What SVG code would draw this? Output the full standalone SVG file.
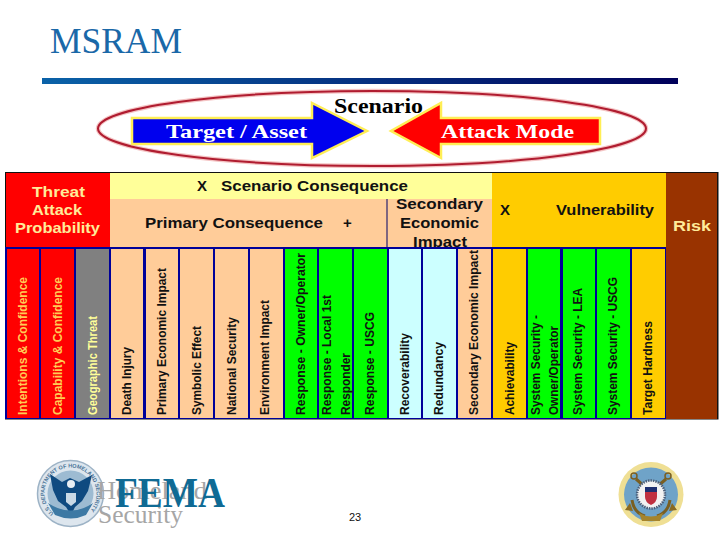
<svg xmlns="http://www.w3.org/2000/svg" width="720" height="540" viewBox="0 0 720 540">
<style>
text{font-family:"Liberation Sans",Arial,sans-serif}
.hd{font-weight:700;font-size:15px;fill:#111}
.cr{font-weight:700;font-size:15px;fill:#ffeb99}
.v{font-weight:700;font-size:12.5px;fill:#111}
.vr{fill:#ffcc55}
.vy{fill:#ffff99}
.sf{font-family:"Liberation Serif","Times New Roman",serif;font-weight:700}
.ser{font-family:"Liberation Serif","Times New Roman",serif}
.red{fill:#ff0000}.gry{fill:#808080}.pch{fill:#ffcc99}.grn{fill:#00ff00}.blu{fill:#ccffff}.gld{fill:#ffcc00}
.arrow{stroke:#ffee55;stroke-width:2.5}
</style>
<defs>
<linearGradient id="rule" x1="0" x2="1" y1="0" y2="0"><stop offset="0" stop-color="#0a62a8"/><stop offset="1" stop-color="#00005a"/></linearGradient>
<path id="dhsArc" d="M70.500 519.500a26 26 0 1 1 0-52a26 26 0 1 1 0 52"/>
</defs>
<rect width="720" height="540" fill="#fff"/>
<g id="title">
<text class="ser" x="50" y="53" font-size="36" fill="#1a68a8" textLength="132" lengthAdjust="spacingAndGlyphs">MSRAM</text>
<rect x="42" y="78" width="636" height="6" fill="url(#rule)"/>
</g>
<g id="scenario">
<ellipse cx="372" cy="128.500" rx="274" ry="37.500" fill="none" stroke="#f4c4c4" stroke-width="4.500"/>
<ellipse cx="372" cy="128.500" rx="274" ry="37.500" fill="none" stroke="#b01c30" stroke-width="2"/>
<path class="arrow" fill="#0000ee" d="M132 118H312V103L367 131L312 158V144H132Z"/>
<path class="arrow" fill="#ff0000" d="M600 118H441V103L391 131L441 158V144H600Z"/>
<text class="sf" x="166" y="138" font-size="19" fill="#fff" textLength="141" lengthAdjust="spacingAndGlyphs">Target / Asset</text>
<text class="sf" x="441" y="138" font-size="19" fill="#fff" textLength="133" lengthAdjust="spacingAndGlyphs">Attack Mode</text>
<text class="sf" x="334" y="113" font-size="20" fill="#000" textLength="89" lengthAdjust="spacingAndGlyphs">Scenario</text>
</g>
<g id="table">
<rect x="5" y="172" width="713.500" height="247.500" fill="#111"/>
<rect x="6" y="173" width="104" height="75" class="red"/>
<rect x="110" y="173" width="382" height="27" fill="#ffff99"/>
<rect x="110" y="199" width="382" height="48" class="pch"/>
<rect x="492" y="173" width="174" height="75" class="gld"/>
<rect x="666" y="173" width="51" height="246" fill="#993300"/>
<rect x="386.500" y="199" width="1" height="48" fill="#000066"/>
<g id="headers">
<text class="cr" x="32" y="197" textLength="53" lengthAdjust="spacingAndGlyphs">Threat</text>
<text class="cr" x="32" y="215" textLength="50" lengthAdjust="spacingAndGlyphs">Attack</text>
<text class="cr" x="15" y="233" textLength="85" lengthAdjust="spacingAndGlyphs">Probability</text>
<text class="hd" x="197" y="191">X</text>
<text class="hd" x="221" y="191" textLength="187" lengthAdjust="spacingAndGlyphs">Scenario Consequence</text>
<text class="hd" x="145" y="228" textLength="178" lengthAdjust="spacingAndGlyphs">Primary Consequence</text>
<text class="hd" x="343" y="228">+</text>
<text class="hd" x="396" y="209" textLength="87" lengthAdjust="spacingAndGlyphs">Secondary</text>
<text class="hd" x="400" y="228" textLength="79" lengthAdjust="spacingAndGlyphs">Economic</text>
<text class="hd" x="413" y="247" textLength="54" lengthAdjust="spacingAndGlyphs">Impact</text>
<text class="hd" x="500" y="215">X</text>
<text class="hd" x="556" y="215" textLength="98" lengthAdjust="spacingAndGlyphs">Vulnerability</text>
<text class="cr" x="673" y="231" textLength="38" lengthAdjust="spacingAndGlyphs">Risk</text>
</g>
<rect x="5" y="247" width="661" height="172" fill="#000099"/>
<g id="columns">
<rect x="7" y="249" width="32" height="169" class="red"/>
<rect x="41" y="249" width="33" height="169" class="red"/>
<rect x="76" y="249" width="33" height="169" class="gry"/>
<rect x="111" y="249" width="32" height="169" class="pch"/>
<rect x="146" y="249" width="32" height="169" class="pch"/>
<rect x="180" y="249" width="33" height="169" class="pch"/>
<rect x="215" y="249" width="33" height="169" class="pch"/>
<rect x="250" y="249" width="33" height="169" class="pch"/>
<rect x="285" y="249" width="32" height="169" class="grn"/>
<rect x="319" y="249" width="33" height="169" class="grn"/>
<rect x="354" y="249" width="33" height="169" class="grn"/>
<rect x="389" y="249" width="32" height="169" class="blu"/>
<rect x="423" y="249" width="33" height="169" class="blu"/>
<rect x="458" y="249" width="33" height="169" class="pch"/>
<rect x="493" y="249" width="33" height="169" class="gld"/>
<rect x="528" y="249" width="32" height="169" class="grn"/>
<rect x="563" y="249" width="32" height="169" class="grn"/>
<rect x="597" y="249" width="33" height="169" class="grn"/>
<rect x="632" y="249" width="33" height="169" class="gld"/>
<g id="column-labels">
<text class="v vr" transform="translate(27 415) rotate(-90)" textLength="138" lengthAdjust="spacingAndGlyphs">Intentions &amp; Confidence</text>
<text class="v vr" transform="translate(62 415) rotate(-90)" textLength="138" lengthAdjust="spacingAndGlyphs">Capability &amp; Confidence</text>
<text class="v vy" transform="translate(96.500 415) rotate(-90)" textLength="99" lengthAdjust="spacingAndGlyphs">Geographic Threat</text>
<text class="v" transform="translate(131 415) rotate(-90)" textLength="68" lengthAdjust="spacingAndGlyphs">Death Injury</text>
<text class="v" transform="translate(165.500 415) rotate(-90)" textLength="147" lengthAdjust="spacingAndGlyphs">Primary Economic Impact</text>
<text class="v" transform="translate(201 415) rotate(-90)" textLength="89" lengthAdjust="spacingAndGlyphs">Symbolic Effect</text>
<text class="v" transform="translate(235.500 415) rotate(-90)" textLength="98" lengthAdjust="spacingAndGlyphs">National Security</text>
<text class="v" transform="translate(269 415) rotate(-90)" textLength="115" lengthAdjust="spacingAndGlyphs">Environment Impact</text>
<text class="v" transform="translate(305 415) rotate(-90)" textLength="162" lengthAdjust="spacingAndGlyphs">Response - Owner/Operator</text>
<text class="v" transform="translate(331 415) rotate(-90)" textLength="120" lengthAdjust="spacingAndGlyphs">Response - Local 1st</text>
<text class="v" transform="translate(350 415) rotate(-90)" textLength="62" lengthAdjust="spacingAndGlyphs">Responder</text>
<text class="v" transform="translate(374 415) rotate(-90)" textLength="103" lengthAdjust="spacingAndGlyphs">Response - USCG</text>
<text class="v" transform="translate(409 415) rotate(-90)" textLength="82" lengthAdjust="spacingAndGlyphs">Recoverability</text>
<text class="v" transform="translate(443 415) rotate(-90)" textLength="73" lengthAdjust="spacingAndGlyphs">Redundancy</text>
<text class="v" transform="translate(478 415) rotate(-90)" textLength="165" lengthAdjust="spacingAndGlyphs">Secondary Economic Impact</text>
<text class="v" transform="translate(514 415) rotate(-90)" textLength="73" lengthAdjust="spacingAndGlyphs">Achievability</text>
<text class="v" transform="translate(540 415) rotate(-90)" textLength="100" lengthAdjust="spacingAndGlyphs">System Security -</text>
<text class="v" transform="translate(558 415) rotate(-90)" textLength="89" lengthAdjust="spacingAndGlyphs">Owner/Operator</text>
<text class="v" transform="translate(582 415) rotate(-90)" textLength="127" lengthAdjust="spacingAndGlyphs">System Security - LEA</text>
<text class="v" transform="translate(617 415) rotate(-90)" textLength="138" lengthAdjust="spacingAndGlyphs">System Security - USCG</text>
<text class="v" transform="translate(652 415) rotate(-90)" textLength="94" lengthAdjust="spacingAndGlyphs">Target Hardness</text>
</g>
</g>
</g>
<g id="dhs-logo">
<circle cx="70.500" cy="493.500" r="33" fill="#dde6ee" stroke="#9db3c6" stroke-width="1.500"/>
<circle cx="70.500" cy="493.500" r="23" fill="#9dbbd2"/>
<text font-size="5.500" font-weight="700" fill="#4a7498"><textPath href="#dhsArc" startOffset="18">U.S. DEPARTMENT OF HOMELAND SECURITY</textPath></text>
<path fill="#0f4a80" d="M50 474L62 482L70 478L79 482L92 475L88 491L82 501L75 507L71 515L66 507L58 501L53 490Z"/>
<circle cx="71" cy="484" r="4" fill="#e8eef3"/>
<path fill="#c9d9e6" d="M66 493h10v9l-5 4l-5-4z"/>
<path fill="#3d79a4" d="M48 503q23 15 45 0l-7 12q-15 7-31 0z"/>
</g>
<g id="fema-logo">
<text class="ser" x="97" y="499" font-size="26" fill="#a6a6a6" textLength="110" lengthAdjust="spacingAndGlyphs">Homeland</text>
<text class="ser" x="98" y="523" font-size="26" fill="#a6a6a6" textLength="85" lengthAdjust="spacingAndGlyphs">Security</text>
<text class="sf" x="115" y="507" font-size="42" fill="#0f6a94" textLength="110" lengthAdjust="spacingAndGlyphs">FEMA</text>
</g>
<g id="page-number"><text x="349" y="521" font-size="11" fill="#111">23</text></g>
<g id="uscg-seal">
<circle cx="651" cy="494.500" r="32.500" fill="#efdf94"/>
<circle cx="651" cy="494.500" r="27" fill="#6fa3c8"/>
<g fill="none" stroke="#7a5f22" stroke-width="3">
<circle cx="634" cy="476" r="3" stroke-width="1.500"/>
<circle cx="668" cy="476" r="3" stroke-width="1.500"/>
<path d="M636 479l8 7M666 479l-8 7"/>
<path d="M632 500q2 13 13 16M670 500q-2 13-13 16"/>
</g>
<path fill="#8a6a22" d="M630 503l-5 7l8 1zM672 503l5 7l-8 1z"/>
<path fill="#a5842c" d="M639 513q12 7 24 0l-3 8h-18z"/>
<circle cx="651" cy="494.500" r="14" fill="#f2f2f2" stroke="#4a5d78" stroke-width="2.500" stroke-dasharray="1.500 1"/>
<path fill="#c03040" d="M645 491h12v6q0 5-6 8q-6-3-6-8z"/>
<path fill="#1d2f70" d="M645 487h12v5h-12z"/>
</g>
</svg>
